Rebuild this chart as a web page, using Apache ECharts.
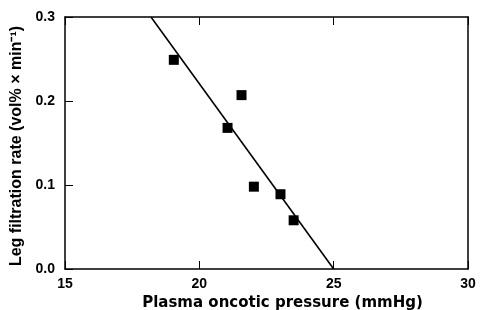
<!DOCTYPE html>
<html>
<head>
<meta charset="utf-8">
<script src="https://cdn.jsdelivr.net/npm/echarts@6/dist/echarts.min.js"></script>
<style>
  html, body { margin: 0; padding: 0; background: #fff; }
  #chart { width: 480px; height: 310px; }
</style>
</head>
<body>
<div id="chart"></div>
<script>
// measured points
const pressure = [19.05, 21.05, 21.57, 22.03, 23.02, 23.51];
const filtrationRate = [0.249, 0.168, 0.207, 0.098, 0.089, 0.058];
// regression line end points
const fitX = [18.2, 25.0];
const fitY = [0.3, 0.0];

const xTicks = [15, 20, 25, 30];
const yTicks = [0.0, 0.1, 0.2, 0.3];

const font = 'Liberation Sans, Arial, sans-serif';
const chart = echarts.init(document.getElementById('chart'));

const axisCommon = {
  axisLine: { show: true, onZero: false, lineStyle: { color: '#000', width: 1.5 } },
  axisTick: { show: true, inside: true, length: 8, lineStyle: { color: '#000', width: 1 } },
  splitLine: { show: false },
};

chart.setOption({
  animation: false,
  grid: { left: 65, right: 12, top: 17, bottom: 41, outerBoundsMode: 'none', containLabel: false },
  xAxis: [
    {
      type: 'value', min: xTicks[0], max: xTicks[xTicks.length - 1], interval: 5,
      ...axisCommon,
      axisLabel: { color: '#000', fontFamily: font, fontWeight: 'bold', fontSize: 14, margin: 8 },
      name: 'Plasma oncotic pressure (mmHg)',
      nameLocation: 'middle', nameGap: 25,
      nameTextStyle: {
        color: '#000', fontFamily: 'DejaVu Sans', fontWeight: 'bold', fontSize: 15,
        padding: [0, 0, 0, 32]
      }
    },
    {
      type: 'value', position: 'top', min: xTicks[0], max: xTicks[xTicks.length - 1], interval: 5,
      ...axisCommon,
      axisLabel: { show: false }
    }
  ],
  yAxis: [
    {
      type: 'value', min: yTicks[0], max: yTicks[yTicks.length - 1], interval: 0.1,
      ...axisCommon,
      axisLabel: {
        color: '#000', fontFamily: font, fontWeight: 'bold', fontSize: 14, margin: 10,
        formatter: v => v.toFixed(1)
      },
      name: 'Leg filtration rate (vol% × min⁻¹)',
      nameLocation: 'middle', nameGap: 33,
      nameTextStyle: {
        color: '#000', fontFamily: font, fontWeight: 'bold', fontSize: 16,
        padding: [0, 6, 0, 0]
      }
    },
    {
      type: 'value', position: 'right', min: yTicks[0], max: yTicks[yTicks.length - 1], interval: 0.1,
      ...axisCommon,
      axisTick: { show: false },
      axisLabel: { show: false }
    }
  ],
  series: [
    {
      type: 'line',
      data: fitX.map((x, i) => [x, fitY[i]]),
      symbol: 'none',
      lineStyle: { color: '#000', width: 1.6 },
      z: 2
    },
    {
      type: 'scatter',
      data: pressure.map((x, i) => [x, filtrationRate[i]]),
      symbol: 'rect',
      symbolSize: 10,
      itemStyle: { color: '#000', opacity: 1 },
      z: 3
    }
  ]
});
</script>
</body>
</html>
